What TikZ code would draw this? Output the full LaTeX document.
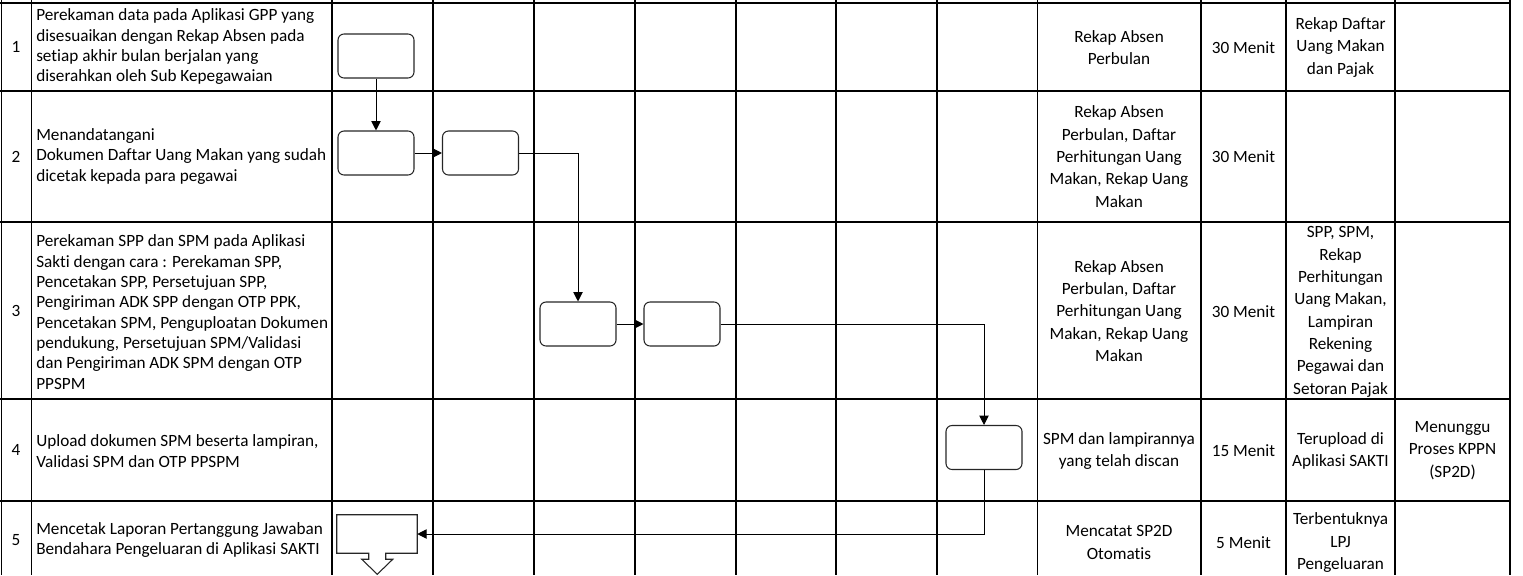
\documentclass[tikz,border=0pt]{standalone}
\usepackage{fontspec}
\setmainfont{Carlito}[Ligatures=NoCommon]
\usetikzlibrary{arrows.meta}

\tikzset{
  gridline/.style={line width=1pt},
  procbox/.style={draw=black!85, line width=0.8pt, rounded corners=4.5pt, minimum width=57pt, minimum height=33pt, inner sep=0pt},
  flow/.style={line width=0.75pt, -{Triangle[length=7pt,width=7pt]}},
  desc/.style={anchor=west, align=left, inner sep=0pt, font=\fontsize{12.9}{15.25}\selectfont},
  cell/.style={align=center, inner sep=0pt, font=\fontsize{12.9}{16.75}\selectfont},
}

\begin{document}
\begin{tikzpicture}[x=0.75pt,y=0.75pt,yscale=-1,xscale=1]
\useasboundingbox (0,0) rectangle (1523,575);

%Table Lines: columns
\draw [gridline] (1.5,0) -- (1.5,575) ;
\draw [gridline] (31.5,0) -- (31.5,575) ;
\draw [gridline] (332,0) -- (332,575) ;
\draw [gridline] (433,0) -- (433,575) ;
\draw [gridline] (534,0) -- (534,575) ;
\draw [gridline] (635,0) -- (635,575) ;
\draw [gridline] (736,0) -- (736,575) ;
\draw [gridline] (836,0) -- (836,575) ;
\draw [gridline] (937,0) -- (937,575) ;
\draw [gridline] (1037.5,0) -- (1037.5,575) ;
\draw [gridline] (1201,0) -- (1201,575) ;
\draw [gridline] (1286,0) -- (1286,575) ;
\draw [gridline] (1395,0) -- (1395,575) ;
\draw [gridline] (1510,0) -- (1510,575) ;
%Table Lines: rows
\draw [gridline] (0,3) -- (1510,3) ;
\draw [gridline] (0,91) -- (1510,91) ;
\draw [gridline] (0,222) -- (1510,222) ;
\draw [gridline] (0,399) -- (1510,399) ;
\draw [gridline] (0,501) -- (1510,501) ;

%Rounded Rect
\node [procbox] (rekam) at (376,56) {};
\node [procbox] (tandatangan) at (376,153) {};
\node [procbox] (cetak) at (480.5,153) {};
\node [procbox] (spp) at (578,324) {};
\node [procbox] (spm) at (682,324) {};
\node [procbox] (upload) at (984,447.5) {};
%Off-page Connector
\node [minimum width=60pt, minimum height=28.5pt, inner sep=0pt] (lpj) at (377,534) {};
\draw [draw=black!85, line width=0.8pt] (lpj.south west) -- (lpj.north west) -- (lpj.north east) -- (lpj.south east) -- ++(-31.5,0) -- ++(0,6) -- ++(7,0) -- ++(-15.5,15) -- ++(-15.5,-15) -- ++(7,0) -- ++(0,-6) -- cycle ;

%Flow Lines
\draw [flow] (rekam) -- (tandatangan) ;
\draw [flow] (tandatangan) -- (cetak) ;
\draw [flow] (cetak.east) -| (spp.north) ;
\draw [flow] (spp) -- (spm) ;
\draw [flow] (spm.east) -| (upload.north) ;
\draw [flow] (upload.south) |- (lpj.east) ;

% Text Node: numbers
\node [cell] (no1) at (16,47) {1};
\node [cell] (no2) at (16,157) {2};
\node [cell] (no3) at (16,311) {3};
\node [cell] (no4) at (16,450) {4};
\node [cell] (no5) at (16,540) {5};
% Text Node: activities
\node [desc] (act1) at (36,47) {Perekaman data pada Aplikasi GPP yang\\disesuaikan dengan Rekap Absen pada\\setiap akhir bulan berjalan yang\\diserahkan oleh Sub Kepegawaian};
\node [desc] (act2) at (36,156.5) {Menandatangani\\Dokumen Daftar Uang Makan yang sudah\\dicetak kepada para pegawai};
\node [desc] (act3) at (36,312) {Perekaman SPP dan SPM pada Aplikasi\\Sakti dengan cara : Perekaman SPP,\\Pencetakan SPP, Persetujuan SPP,\\Pengiriman ADK SPP dengan OTP PPK,\\Pencetakan SPM, Penguploatan Dokumen\\pendukung, Persetujuan SPM/Validasi\\dan Pengiriman ADK SPM dengan OTP\\PPSPM};
\node [desc] (act4) at (36,451) {Upload dokumen SPM beserta lampiran,\\Validasi SPM dan OTP PPSPM};
\node [desc] (act5) at (36,540) {Mencetak Laporan Pertanggung Jawaban\\Bendahara Pengeluaran di Aplikasi SAKTI};

% Text Node: kelengkapan
\node [cell] (doc1) at (1119,47.5) {Rekap Absen\\Perbulan};
\node [cell] (doc2) at (1119,156.5) {Rekap Absen\\Perbulan, Daftar\\Perhitungan Uang\\Makan, Rekap Uang\\Makan};
\node [cell] (doc3) at (1119,311) {Rekap Absen\\Perbulan, Daftar\\Perhitungan Uang\\Makan, Rekap Uang\\Makan};
\node [cell] (doc4) at (1119,451) {SPM dan lampirannya\\yang telah discan};
\node [cell] (doc5) at (1119,542.5) {Mencatat SP2D\\Otomatis};
% Text Node: waktu
\node [cell] (time1) at (1243.5,47.5) {30 Menit};
\node [cell] (time2) at (1243.5,157) {30 Menit};
\node [cell] (time3) at (1243.5,311.5) {30 Menit};
\node [cell] (time4) at (1243.5,450.5) {15 Menit};
\node [cell] (time5) at (1243.5,542.5) {5 Menit};
% Text Node: output
\node [cell] (out1) at (1340.5,47.5) {Rekap Daftar\\Uang Makan\\dan Pajak};
\node [cell] (out3) at (1340.5,312) {SPP, SPM,\\Rekap\\Perhitungan\\Uang Makan,\\Lampiran\\Rekening\\Pegawai dan\\Setoran Pajak};
\node [cell] (out4) at (1340.5,451) {Terupload di\\Aplikasi SAKTI};
\node [cell] (out5) at (1340.5,542.5) {Terbentuknya\\LPJ\\Pengeluaran};
% Text Node: keterangan
\node [cell] (note4) at (1452.5,450.5) {Menunggu\\Proses KPPN\\(SP2D)};

\end{tikzpicture}
\end{document}
